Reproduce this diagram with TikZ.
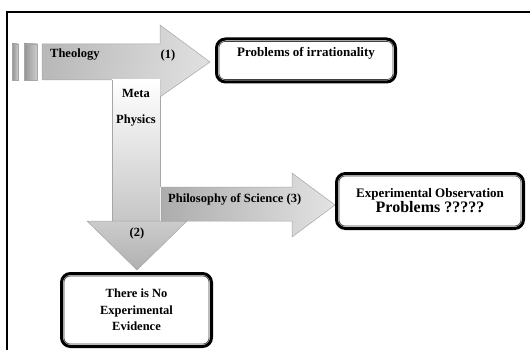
\documentclass[tikz,border=0pt]{standalone}
\usepackage{fontspec}
\setmainfont{Liberation Serif}
\begin{document}
\begin{tikzpicture}[x=1pt,y=-1pt,
  arrowedge/.style={draw=gray!70, line width=0.5pt},
  lbl/.style={font=\fontsize{12.5}{14}\selectfont\bfseries, inner sep=0pt, text=black},
  boxouter/.style={draw=black, line width=3pt, rounded corners=9pt, align=center, inner sep=0pt, text=black},
  boxinner/.style={draw=black!75, line width=0.7pt, rounded corners=6pt},
]
\useasboundingbox (0,0) rectangle (530,350);
% frame
\draw[line width=2pt] (7,352) -- (7,12) -- (531,12);

% small bars
\shade[arrowedge, left color=gray!85, right color=gray!40] (12,44) rectangle (18,80);
\shade[arrowedge, left color=gray!85, right color=gray!40] (24,44) rectangle (37,80);

% main arrow (Theology)
\shade[arrowedge, shading=axis, left color=gray!55, right color=gray!25, shading angle=80]
  (42,44) -- (160,44) -- (160,25) -- (210,62) -- (160,97) -- (160,80) -- (42,80) -- cycle;

% vertical shaft (Meta Physics)
\shade[top color=white, bottom color=gray!45] (112,80) rectangle (160,222);
\draw[gray!70, line width=0.5pt] (112,80) -- (112,221);
\draw[gray!70, line width=0.5pt] (160,97) -- (160,187);

% down arrow head
\shade[arrowedge, top color=gray!40, bottom color=gray!62]
  (87,221) -- (187,221) -- (137,270) -- cycle;

% philosophy arrow
\shade[arrowedge, left color=gray!65, right color=gray!22]
  (161,187) -- (292,187) -- (292,173) -- (335,205) -- (292,237) -- (292,221) -- (161,221) -- cycle;

% labels
\node[lbl, anchor=west] (theo) at (50,55) {Theology};
\node[lbl] (one) at (168,55) {(1)};
\node[lbl] (meta) at (136,93) {Meta};
\node[lbl] (phys) at (136,121) {Physics};
\node[lbl] (two) at (137,233) {(2)};
\node[lbl, anchor=west] (phil) at (168,199) {Philosophy of Science (3)};

% boxes
\node[boxouter, minimum width=179pt, minimum height=43pt, font=\fontsize{13}{15}\selectfont\bfseries]
  (b1) at (306,60.5) {Problems of irrationality\\[2pt]};
\draw[boxinner] ([shift={(4,4)}]b1.north west) rectangle ([shift={(-4,-4)}]b1.south east);

\node[boxouter, minimum width=187pt, minimum height=55pt]
  (b2) at (430,201) {{\fontsize{13}{14}\selectfont\bfseries Experimental Observation}\\[0pt]{\fontsize{16}{17}\selectfont\bfseries Problems ?????}};
\draw[boxinner] ([shift={(4,4)}]b2.north west) rectangle ([shift={(-4,-4)}]b2.south east);

\node[boxouter, minimum width=150pt, minimum height=73pt, font=\fontsize{12.5}{16.3}\selectfont\bfseries]
  (b3) at (136.5,310) {There is No\\Experimental\\Evidence};
\draw[boxinner] ([shift={(4,4)}]b3.north west) rectangle ([shift={(-4,-4)}]b3.south east);
\end{tikzpicture}
\end{document}
